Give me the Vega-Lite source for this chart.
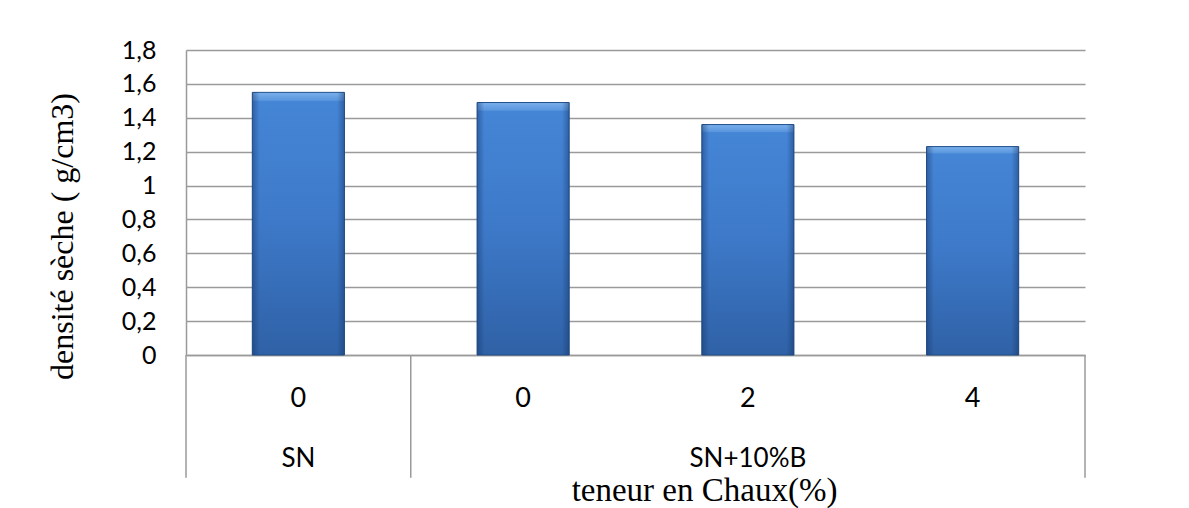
{
  "$schema": "https://vega.github.io/schema/vega-lite/v6.json",
  "width": 899,
  "height": 305,
  "autosize": {"type": "none"},
  "padding": {"left": 186, "top": 50, "right": 104, "bottom": 153},
  "background": "#ffffff",
  "config": {
    "view": {"stroke": null},
    "axis": {"labelColor": "#000000", "titleColor": "#000000", "labelOverlap": false},
    "axisY": {
      "tickCount": 9,
      "labelExpr": "replace(format(datum.value, '~g'), '.', ',')",
      "labelFont": "Lato",
      "labelFontSize": 25,
      "labelPadding": 30,
      "labelOverlap": false,
      "ticks": false,
      "domain": true,
      "domainColor": "#9a9a9a",
      "domainWidth": 1.5,
      "grid": true,
      "gridColor": "#9a9a9a",
      "gridWidth": 1.5,
      "titleFont": "Liberation Serif",
      "titleFontSize": 32,
      "titleFontWeight": "normal",
      "titleAngle": -90,
      "titleX": -114,
      "titleY": 186,
      "titleAlign": "center",
      "titleBaseline": "alphabetic"
    }
  },
  "data": {
    "values": [
      {"id": "SN|0", "groupe": "SN", "teneur": "0", "densite": 1.55},
      {"id": "SN+10%B|0", "groupe": "SN+10%B", "teneur": "0", "densite": 1.49},
      {"id": "SN+10%B|2", "groupe": "SN+10%B", "teneur": "2", "densite": 1.36},
      {"id": "SN+10%B|4", "groupe": "SN+10%B", "teneur": "4", "densite": 1.23}
    ]
  },
  "resolve": {"axis": {"x": "independent"}},
  "layer": [
    {
      "mark": {
        "type": "bar",
        "width": {"band": 0.41},
        "stroke": "#22508a",
        "strokeWidth": 1,
        "color": {
          "gradient": "linear",
          "x1": 0, "y1": 0, "x2": 0, "y2": 1,
          "stops": [
            {"offset": 0, "color": "#7ab0ec"},
            {"offset": 0.03, "color": "#5b97de"},
            {"offset": 0.035, "color": "#4585d6"},
            {"offset": 0.5, "color": "#3d79c8"},
            {"offset": 1, "color": "#2f61a6"}
          ]
        }
      },
      "encoding": {
        "x": {
          "field": "id",
          "type": "nominal",
          "scale": {
            "domain": ["SN|0", "SN+10%B|0", "SN+10%B|2", "SN+10%B|4"],
            "paddingInner": 0,
            "paddingOuter": 0
          },
          "axis": {
            "orient": "bottom",
            "title": null,
            "labelExpr": "split(datum.value, '|')[1]",
            "labelAngle": 0,
            "labelFont": "Lato",
            "labelFontSize": 27,
            "labelPadding": 30,
            "ticks": false,
            "domain": true,
            "domainColor": "#9a9a9a",
            "domainWidth": 1.5,
            "grid": false
          }
        },
        "y": {
          "field": "densite",
          "type": "quantitative",
          "title": "densité sèche ( g/cm3)",
          "scale": {"domain": [0, 1.8], "nice": false}
        }
      }
    },
    {
      "mark": {
        "type": "bar",
        "width": {"band": 0.41},
        "color": {
          "gradient": "linear",
          "x1": 0, "y1": 0, "x2": 1, "y2": 0,
          "stops": [
            {"offset": 0, "color": "rgba(20,50,100,0.45)"},
            {"offset": 0.08, "color": "rgba(20,50,100,0)"},
            {"offset": 0.92, "color": "rgba(20,50,100,0)"},
            {"offset": 1, "color": "rgba(20,50,100,0.45)"}
          ]
        }
      },
      "encoding": {
        "x": {
          "field": "id",
          "type": "nominal",
          "scale": {"domain": ["SN|0", "SN+10%B|0", "SN+10%B|2", "SN+10%B|4"]},
          "axis": null
        },
        "y": {"field": "densite", "type": "quantitative"}
      }
    },
    {
      "transform": [{"filter": "datum.id == 'SN|0' || datum.id == 'SN+10%B|0'"}],
      "mark": {"type": "rule", "color": "#9a9a9a", "strokeWidth": 1.5},
      "encoding": {
        "x": {
          "field": "id",
          "type": "nominal",
          "bandPosition": 0,
          "scale": {"domain": ["SN|0", "SN+10%B|0", "SN+10%B|2", "SN+10%B|4"]},
          "axis": {
            "orient": "bottom",
            "labelExpr": "datum.value == 'SN|0' ? 'SN' : (datum.value == 'SN+10%B|2' ? 'SN+10%B' : '')",
            "labelAngle": 0,
            "labelFont": "Lato",
            "labelFontSize": 26,
            "labelPadding": 90,
            "ticks": false,
            "domain": false,
            "grid": false,
            "title": "teneur en Chaux(%)",
            "titleFont": "Liberation Serif",
            "titleFontSize": 33,
            "titleFontWeight": "normal",
            "titleX": 518,
            "titleY": 135,
            "titleAlign": "center",
            "titleBaseline": "middle"
          }
        },
        "y": {"datum": 0},
        "y2": {"datum": -0.725}
      }
    },
    {
      "transform": [{"filter": "datum.id == 'SN+10%B|4'"}],
      "mark": {"type": "rule", "color": "#9a9a9a", "strokeWidth": 1.5},
      "encoding": {
        "x": {
          "field": "id",
          "type": "nominal",
          "bandPosition": 1,
          "scale": {"domain": ["SN|0", "SN+10%B|0", "SN+10%B|2", "SN+10%B|4"]},
          "axis": null
        },
        "y": {"datum": 0},
        "y2": {"datum": -0.725}
      }
    }
  ]
}
